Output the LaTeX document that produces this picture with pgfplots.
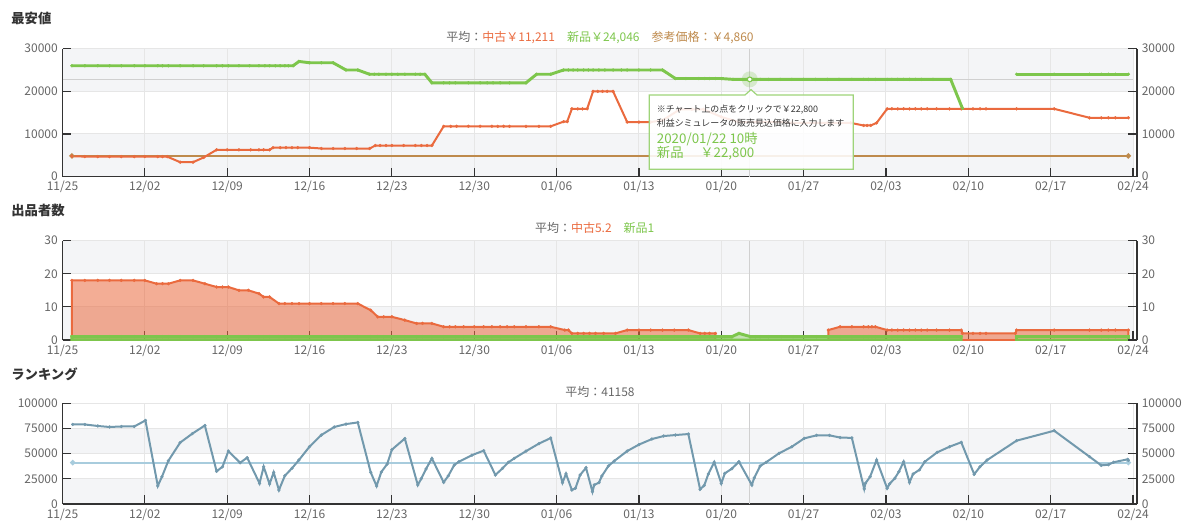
\documentclass[border=0pt]{standalone}
\usepackage{pgfplots}
\pgfplotsset{compat=1.18}
\usepackage{fontspec}
\setmainfont{Noto Sans CJK JP}
\definecolor{cOrange}{HTML}{EA6A3E}
\definecolor{cGreen}{HTML}{7DC64C}
\definecolor{cBrown}{HTML}{BE8A4C}
\definecolor{cRank}{HTML}{7299AD}
\definecolor{cAvg}{HTML}{A8CCDD}
\definecolor{cBand}{HTML}{F4F5F7}
\definecolor{cGrid}{HTML}{E6E6E6}
\definecolor{cAxis}{HTML}{333333}
\definecolor{cTick}{HTML}{666666}
\definecolor{cTitle}{HTML}{333333}
\definecolor{cCross}{HTML}{D0D0D0}

\pgfplotsset{
 common/.style={
  scale only axis, width=802.9pt,
  xmin=0, xmax=91,
  tick align=inside,
  major tick length=6.5pt,
  every tick/.style={cAxis, line width=0.9pt},
  axis line style={cAxis, line width=1.1pt},
  ticklabel style={font=\fontsize{9}{10}\selectfont, text=cTick},
  /pgf/number format/.cd, fixed, precision=0, 1000 sep={}, assume math mode=true, /pgfplots/.cd,
  scaled y ticks=false,
 },
 base/.style={
  common,
  xtick={0,7,...,91},
  xticklabels={11/25,12/02,12/09,12/16,12/23,12/30,01/06,01/13,01/20,01/27,02/03,02/10,02/17,02/24},
  axis x line*=bottom, axis y line*=left,
  grid=major, major grid style={cGrid, line width=0.75pt},
  set layers,
 },
 rightax/.style={
  common,
  axis x line=none, axis y line*=right,
 },
 orangeline/.style={cOrange, line width=1.5pt, mark=*, mark size=1.15pt, mark options={solid, fill=cOrange, draw=cOrange, line width=0.2pt, fill opacity=1, draw opacity=1}},
 greenline/.style={cGreen, line width=2.2pt, mark=*, mark size=1.15pt, mark options={solid, fill=cGreen, draw=cGreen, line width=0.2pt, fill opacity=1, draw opacity=1}},
 rankline/.style={cRank, line width=1.5pt, mark=*, mark size=1.15pt, mark options={solid, fill=cRank, draw=cRank, line width=0.2pt}},
}

\begin{document}
\begin{tikzpicture}
\path (0,0) rectangle (900pt,-393pt);

% ---------- titles ----------
\node[anchor=west, font=\bfseries\fontsize{10}{12}\selectfont, text=cTitle] at (5pt,-14.2pt) {最安値};
\node[anchor=west, font=\bfseries\fontsize{10}{12}\selectfont, text=cTitle] at (5pt,-157.5pt) {出品者数};
\node[anchor=west, font=\bfseries\fontsize{10}{12}\selectfont, text=cTitle] at (5pt,-280.5pt) {ランキング};

\node[font=\fontsize{9}{10}\selectfont] at (450pt,-28.5pt) {\textcolor{cTick}{平均：}\textcolor{cOrange}{中古￥11,211}\hspace{9pt}\textcolor{cGreen}{新品￥24,046}\hspace{9pt}\textcolor{cBrown}{参考価格：￥4,860}};
\node[font=\fontsize{9}{10}\selectfont] at (446pt,-171.2pt) {\textcolor{cTick}{平均：}\textcolor{cOrange}{中古5.2}\hspace{9pt}\textcolor{cGreen}{新品1}};
\node[font=\fontsize{9}{10}\selectfont] at (450pt,-293.8pt) {\textcolor{cTick}{平均：41158}};

% ---------- panel 1 ----------
\begin{axis}[base, at={(46.875pt,-132.5pt)}, anchor=south west, height=96pt,
  ymin=0, ymax=30000, ytick={0,10000,20000,30000}]
\begin{pgfonlayer}{axis background}
\fill[cBand] (axis cs:0,0) rectangle (axis cs:91,10000);
\fill[cBand] (axis cs:0,20000) rectangle (axis cs:91,30000);
\end{pgfonlayer}
\draw[cCross, line width=1.1pt] (axis cs:0,22800) -- (axis cs:91,22800);
\draw[cCross, line width=0.9pt] (axis cs:58.42,0) -- (axis cs:58.42,30000);
\addplot[cBrown, line width=1.5pt, mark=*, mark size=1.15pt] coordinates {(0.8,4860)(90.6,4860)};
\addplot[orangeline] coordinates {
(0.8,4800)(1.9,4700)(3,4700)(4,4700)(5,4700)(6.1,4700)(7,4700)(8.1,4700)(8.5,4700)(8.9,4700)
(10,3400)(11.1,3400)(12,4500)(13.1,6300)(14,6300)(15,6300)(16,6300)(16.7,6300)(17.1,6300)(17.6,6300)
(17.9,6800)(18.5,6800)(19,6800)(19.5,6800)(20,6800)(21,6800)(22,6600)(23,6600)(24,6600)(25,6600)(26.1,6600)
(26.6,7300)(27,7300)(27.5,7300)(28,7300)(29,7300)(30,7300)(30.5,7300)(31,7300)(31.4,7300)
(32.4,11800)(33,11800)(33.5,11800)(34.5,11800)(35.5,11800)(36.5,11800)(37,11800)(37.5,11800)(38,11800)(39.4,11800)(40.5,11800)(41.5,11800)
(42.6,12900)(42.9,12900)(43.3,15900)(43.8,15900)(44.2,15900)(44.6,15900)
(45.1,20000)(45.5,20000)(45.9,20000)(46.3,20000)(46.8,20000)
(48,12800)(49,12800)(50,12800)(51,13200)(52.5,15800)(53.5,15800)(54.5,15800)(56,14000)(57.5,12800)(59,12800)(60,12800)(61,12800)
(62,12600)(63,12600)(64,12600)(65,12600)(66,12600)(67,12600)
(68.1,12000)(68.4,12000)(68.7,12000)(69.2,12600)
(70.1,15900)(70.5,15900)(71,15900)(71.5,15900)(72,15900)(72.5,15900)(73,15900)(73.5,15900)(74.3,15900)(75.4,15900)(76.4,15900)(77.4,15900)(78,15900)(78.5,15900)(81.1,15900)(84.3,15900)
(87.3,13800)(88.3,13800)(88.9,13800)(89.5,13800)(90.6,13800)};
\addplot[greenline] coordinates {
(0.8,26000)(1.9,26000)(3,26000)(4,26000)(5,26000)(6.1,26000)(7,26000)(8.1,26000)(8.5,26000)(9,26000)(10,26000)(11.1,26000)(12,26000)(13.1,26000)(13.6,26000)(14.1,26000)(15,26000)(15.9,26000)(16.7,26000)(17.2,26000)(17.6,26000)(18.1,26000)(18.5,26000)(18.9,26000)(19.2,26000)(19.6,26000)
(20.1,27000)(21,26700)(22,26700)(23,26700)(24.1,25000)(25.1,25000)
(26.1,24000)(26.5,24000)(26.9,24000)(27.5,24000)(28,24000)(28.5,24000)(29.1,24000)(30,24000)(30.4,24000)(30.8,24000)
(31.4,22000)(32.4,22000)(32.9,22000)(33.4,22000)(34.5,22000)(35.5,22000)(36.1,22000)(36.6,22000)(37.2,22000)(38,22000)(39.4,22000)
(40.3,24000)(41.5,24000)
(42.6,25000)(43,25000)(43.4,25000)(43.8,25000)(44.3,25000)(44.7,25000)(45.1,25000)(45.6,25000)(46.1,25000)(46.8,25000)(47.5,25000)(48,25000)(49,25000)(50,25000)(51,25000)
(52.1,23000)(53,23000)(54.1,23000)(54.6,23000)(55,23000)(55.5,23000)(56,23000)
(57,22800)(58.4,22800)(58.7,22800)(59.3,22800)(60,22800)(61,22800)(62,22800)(63,22800)(64,22800)(65,22800)(66,22800)(67.1,22800)(68.1,22800)(68.5,22800)(69.1,22800)(70.1,22800)(70.5,22800)(71,22800)(71.5,22800)(72,22800)(72.5,22800)(73,22800)(74,22800)(75.5,22800)
(76.5,16000)};
\addplot[greenline] coordinates {(81.1,24000)(84.3,24000)(87.3,24000)(88.3,24000)(88.9,24000)(89.5,24000)(90.6,24000)};
\addplot[cGreen, only marks, mark=*, mark size=6pt, mark options={fill=cGreen, fill opacity=0.25, draw opacity=0}] coordinates {(58.42,22800)};
\addplot[cGreen, only marks, mark=*, mark size=1.8pt, mark options={draw=cGreen, fill=white, line width=0.8pt}] coordinates {(58.42,22800)};
\end{axis}
\begin{axis}[rightax, at={(49.875pt,-132.5pt)}, anchor=south west, height=96pt,
  ymin=0, ymax=30000, ytick={0,10000,20000,30000}]
\end{axis}

% tooltip
\draw[cGreen!75!white, line width=0.9pt, fill=white, fill opacity=0.88]
  (486.975pt,-71.25pt) -- (558.75pt,-71.25pt) -- (563.25pt,-67.2pt) -- (567.75pt,-71.25pt)
  -- (639.975pt,-71.25pt) -- (639.975pt,-126.975pt) -- (486.975pt,-126.975pt) -- cycle;
\node[anchor=west, inner sep=0pt, font=\fontsize{6.7}{7}\selectfont, text=cTitle] at (492.5pt,-82.5pt) {※チャート上の点をクリックで￥22,800};
\node[anchor=west, inner sep=0pt, font=\fontsize{6.7}{7}\selectfont, text=cTitle] at (492.5pt,-92pt) {利益シミュレータの販売見込価格に入力します};
\node[anchor=west, inner sep=0pt, font=\fontsize{10}{11}\selectfont, text=cGreen] at (492.5pt,-104.25pt) {2020/01/22 10時};
\node[anchor=west, inner sep=0pt, font=\fontsize{10}{11}\selectfont, text=cGreen] at (492.5pt,-115pt) {新品\hspace{12.5pt}￥22,800};

% ---------- panel 2 ----------
\begin{axis}[base, at={(46.875pt,-255pt)}, anchor=south west, height=74.5pt,
  ymin=0, ymax=30, ytick={0,10,20,30}]
\begin{pgfonlayer}{axis background}
\fill[cBand] (axis cs:0,0) rectangle (axis cs:91,10);
\fill[cBand] (axis cs:0,20) rectangle (axis cs:91,30);
\end{pgfonlayer}
\draw[cCross, line width=0.9pt] (axis cs:58.42,0) -- (axis cs:58.42,30);
\addplot[orangeline, fill=cOrange, fill opacity=0.55] coordinates {
(0.8,18)(1.9,18)(3,18)(4,18)(5,18)(6.1,18)(7,18)(8,17)(8.5,17)(9,17)(10,18)(11.1,18)(12.1,17)(13.1,16)(13.6,16)(14.1,16)(15,15)(15.8,15)(16.7,14)(17.1,13)(17.6,13)
(18.4,11)(18.9,11)(19.5,11)(20.1,11)(21,11)(22,11)(23,11)(24,11)(25.1,11)(26.2,9)(26.8,7)(27.3,7)(28,7)(29.1,6)(30.1,5)(30.6,5)(31.4,5)
(32.4,4)(32.9,4)(33.4,4)(34.1,4)(35,4)(35.8,4)(36.5,4)(37.2,4)(37.8,4)(38.4,4)(39.4,4)(40.5,4)(41.5,4)(42.7,3)(43,3)
(43.3,2)(43.8,2)(44.3,2)(44.8,2)(45.3,2)(46,2)(47,2)(48,3)(49,3)(50,3)(51,3)(52,3)(53.2,3)(54.2,2)(54.6,2)(55,2)(55.5,2)} \closedcycle;
\addplot[orangeline, fill=cOrange, fill opacity=0.55] coordinates {
(65.1,3)(66.1,4)(67.1,4)(68.1,4)(68.5,4)(68.8,4)(69.1,4)(70.1,3)(70.5,3)(71,3)(71.5,3)(72,3)(72.5,3)(73,3)(73.5,3)(74.3,3)(75.4,3)(76.4,3)
(76.5,2)(77.4,2)(78,2)(78.5,2)(81,2)(81.1,3)(84.3,3)(87.3,3)(88.3,3)(88.9,3)(89.5,3)(90.6,3)} \closedcycle;
\addplot[greenline, fill=cGreen, fill opacity=0.4] coordinates {
(0.8,1)(1.9,1)(3,1)(4,1)(5,1)(6.1,1)(7,1)(8,1)(8.5,1)(9,1)(10,1)(11.1,1)(12.1,1)(13.1,1)(13.6,1)(14.1,1)(15,1)(15.8,1)(16.7,1)(17.1,1)(17.6,1)
(18.4,1)(18.9,1)(19.5,1)(20.1,1)(21,1)(22,1)(23,1)(24,1)(25.1,1)(26.2,1)(26.8,1)(27.3,1)(28,1)(29.1,1)(30.1,1)(30.6,1)(31.4,1)
(32.4,1)(33.4,1)(34.1,1)(35,1)(35.8,1)(36.5,1)(37.2,1)(38.4,1)(39.4,1)(40.5,1)(41.5,1)(42.7,1)(43.3,1)(43.8,1)(44.3,1)(45.3,1)(46,1)(47,1)
(48,1)(49,1)(50,1)(51,1)(52,1)(53.2,1)(54.2,1)(54.6,1)(55,1)(55.5,1)(56.3,1)(56.9,1)(57.5,2)(58.5,1)(58.9,1)(59.3,1)(60,1)(61.1,1)(62.1,1)(63.1,1)(64.1,1)
(65.1,1)(66.1,1)(67.1,1)(68.1,1)(68.5,1)(68.8,1)(69.1,1)(70.1,1)(70.5,1)(71,1)(71.5,1)(72,1)(72.5,1)(73,1)(74.3,1)(75.4,1)(76.4,1)} \closedcycle;
\addplot[greenline, fill=cGreen, fill opacity=0.4] coordinates {
(81.1,1)(84.3,1)(87.3,1)(88.3,1)(88.9,1)(89.5,1)(90.6,1)} \closedcycle;
\end{axis}
\begin{axis}[rightax, at={(49.875pt,-255pt)}, anchor=south west, height=74.5pt,
  ymin=0, ymax=30, ytick={0,10,20,30}]
\end{axis}

% ---------- panel 3 ----------
\begin{axis}[base, at={(46.875pt,-378pt)}, anchor=south west, height=75.5pt,
  ymin=0, ymax=100000, ytick={0,25000,50000,75000,100000}]
\begin{pgfonlayer}{axis background}
\fill[cBand] (axis cs:0,0) rectangle (axis cs:91,25000);
\fill[cBand] (axis cs:0,50000) rectangle (axis cs:91,75000);
\end{pgfonlayer}
\draw[cCross, line width=0.9pt] (axis cs:58.42,0) -- (axis cs:58.42,100000);
\addplot[cAvg, line width=1.5pt, mark=*, mark size=1.15pt] coordinates {(0.87,41158)(90.6,41158)};
\addplot[rankline] coordinates {
(0.87,79000)(1.9,79000)(3,77500)(4,76500)(5,77000)(6.1,77000)(7.05,83000)(8.1,18000)(8.45,27000)(9,43000)(10,61000)(11.05,70000)(12.1,78000)
(13.1,32500)(13.6,37000)(14.1,52500)(15.1,41000)(15.7,46000)(16.75,20500)(17.1,37000)(17.6,19900)(17.95,31400)(18.4,13900)(18.9,28100)(19.5,35400)(20.1,43700)
(21,57000)(22,68500)(23.1,76500)(24.1,79400)(25.1,81000)(26.2,31400)(26.7,17900)(27.1,31800)(27.6,39700)(28,54000)(29.1,65000)
(30.2,18900)(30.5,25200)(30.9,34800)(31.4,45300)(32.4,21500)(32.8,28100)(33.3,38700)(33.7,42000)(34.8,48500)(35.8,53000)
(36.8,28800)(37.4,35400)(37.9,41400)(38.4,45300)(39.4,52500)(40.5,60000)(41.5,65500)
(42.5,21200)(42.8,30000)(43.3,13900)(43.6,15600)(44,28800)(44.5,36000)(45.05,12200)(45.2,18900)(45.6,21200)(45.85,27800)(46.4,37700)(46.9,42700)
(48,52600)(49,59000)(50.1,64500)(51.1,67500)(52.1,68500)(53.2,69500)
(54.2,14600)(54.55,18400)(54.9,29800)(55.4,41500)(56,20500)(56.3,30400)(56.9,35100)(57.5,42000)(58.6,18900)(58.8,26000)(59.3,37700)(59.8,41400)
(60.9,50300)(62,56900)(63.05,65200)(64.1,68200)(65.2,68200)(66.1,66000)(67.1,65700)
(68.15,15000)(68.25,20500)(68.65,27100)(69.2,43700)(70.1,15600)(70.3,19900)(70.75,25500)(71.1,32100)(71.5,42000)
(72,21500)(72.3,29800)(72.85,34000)(73.3,42000)(74.35,51300)(75.4,56900)(76.4,61300)
(77.5,29500)(78,37100)(78.6,43700)(81.1,62900)(84.3,72800)(87.3,47000)(88.3,38400)(88.9,39000)(89.35,41500)(90.55,44400)(90.6,43400)};
\end{axis}
\begin{axis}[rightax, at={(49.875pt,-378pt)}, anchor=south west, height=75.5pt,
  ymin=0, ymax=100000, ytick={0,25000,50000,75000,100000}]
\end{axis}
\end{tikzpicture}
\end{document}
